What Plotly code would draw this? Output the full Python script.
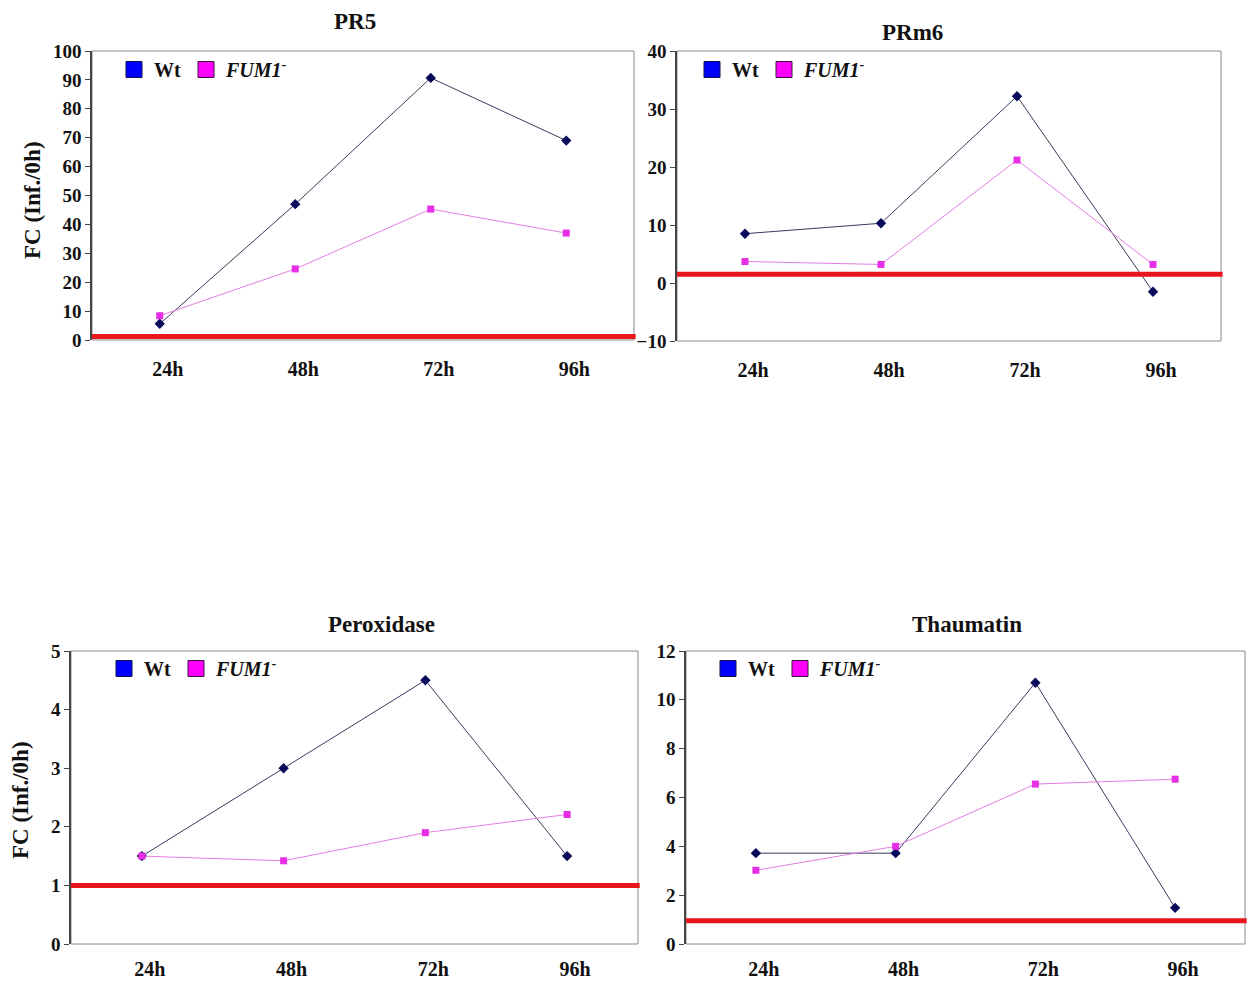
import plotly.graph_objects as go

# ---- data -------------------------------------------------------------
timepoints = ["24h", "48h", "72h", "96h"]
panel_titles = ["PR5", "PRm6", "Peroxidase", "Thaumatin"]

wt_pr5 = [5.6, 47.0, 90.7, 69.0]
fum_pr5 = [8.4, 24.6, 45.3, 37.0]

wt_prm6 = [8.5, 10.3, 32.2, -1.5]
fum_prm6 = [3.7, 3.2, 21.2, 3.2]

wt_perox = [1.5, 3.0, 4.5, 1.5]
fum_perox = [1.5, 1.42, 1.9, 2.21]

wt_thaum = [3.72, 3.72, 10.7, 1.48]
fum_thaum = [3.02, 4.0, 6.55, 6.75]

# fold-change reference level drawn in red on each panel
threshold = [1.2, 1.5, 1.0, 0.95]

y_ranges = [[0, 100], [-10, 40], [0, 5], [0, 12]]
y_dticks = [10, 10, 1, 2]

wt_series = [wt_pr5, wt_prm6, wt_perox, wt_thaum]
fum_series = [fum_pr5, fum_prm6, fum_perox, fum_thaum]

# ---- layout geometry (pixels in a 1250 x 985 canvas) -------------------
W, H = 1250, 985
boxes = [  # left, right, top, bottom
    (92, 634, 51, 340),
    (677, 1221, 51, 341),
    (71, 638, 651, 944),
    (686, 1245, 651, 944),
]
title_pos = [(355, 22), (912, 33), (381, 624), (967, 624)]
legend_pos = [(114, 50), (692, 50), (104, 649), (708, 649)]
xlabel_standoff = [15, 15, 11, 11]
ytitle_pos = [(33, 200), (20, 800)]

SERIF = "Liberation Serif, Times New Roman, serif"
WT_LINE = "#3a3a5e"
WT_MARK = "#0a0a5a"
FUM_LINE = "#e27ee2"
FUM_MARK = "#e62ee6"

fig = go.Figure()

for i in range(4):
    n = "" if i == 0 else str(i + 1)
    xa, ya = "x" + n, "y" + n
    leg = "legend" + n

    fig.add_trace(go.Scatter(
        x=timepoints, y=wt_series[i], mode="lines+markers",
        line=dict(color=WT_LINE, width=1),
        marker=dict(symbol="diamond", size=8, color=WT_MARK),
        xaxis=xa, yaxis=ya, showlegend=False, name="Wt"))
    fig.add_trace(go.Scatter(
        x=timepoints, y=fum_series[i], mode="lines+markers",
        line=dict(color=FUM_LINE, width=1),
        marker=dict(symbol="square", size=7, color=FUM_MARK),
        xaxis=xa, yaxis=ya, showlegend=False, name="FUM1-"))

    # legend-only entries with square colour patches
    fig.add_trace(go.Scatter(
        x=[None], y=[None], mode="markers", name="Wt",
        marker=dict(symbol="square", size=18, color="#0000ff",
                    line=dict(color="#10104a", width=1)),
        xaxis=xa, yaxis=ya, legend=leg))
    fig.add_trace(go.Scatter(
        x=[None], y=[None], mode="markers", name="<i>FUM1</i><sup>-</sup>",
        marker=dict(symbol="square", size=18, color="#ff00ff",
                    line=dict(color="#3a103a", width=1)),
        xaxis=xa, yaxis=ya, legend=leg))

    l, r, t, b = boxes[i]
    fig.update_layout(**{
        "xaxis" + n: dict(
            domain=[l / W, r / W], anchor=ya, automargin=False,
            type="category", range=[-0.5, 3.5],
            showline=False, showgrid=False, zeroline=False,
            ticks="", ticklabelstandoff=xlabel_standoff[i], ticklabelshift=8,
            tickfont=dict(family=SERIF, size=20, color="#111", weight="bold"),
        ),
        "yaxis" + n: dict(
            domain=[1 - b / H, 1 - t / H], anchor=xa, automargin=False,
            range=y_ranges[i], dtick=y_dticks[i],
            showline=True, linecolor="#454545", linewidth=1.5,
            ticks="outside", ticklen=5, tickcolor="#454545",
            showgrid=False, zeroline=False,
            tickfont=dict(family=SERIF, size=19, color="#111", weight="bold"),
        ),
        leg: dict(
            x=legend_pos[i][0] / W, y=1 - legend_pos[i][1] / H,
            xanchor="left", yanchor="top", orientation="h",
            bgcolor="rgba(0,0,0,0)", itemsizing="trace",
            font=dict(family=SERIF, size=20, color="#111", weight="bold"),
            tracegroupgap=0, itemwidth=30,
        ),
    })

    # plot frame
    fig.add_shape(type="rect", xref=xa + " domain", yref=ya + " domain",
                  x0=0, x1=1, y0=0, y1=1,
                  line=dict(color="#8a8a8a", width=1), layer="below")
    # red reference line
    fig.add_shape(type="line", xref=xa + " domain", yref=ya,
                  x0=0, x1=1.003, y0=threshold[i], y1=threshold[i],
                  line=dict(color="#e8151b", width=5))

    # panel title
    fig.add_annotation(text=panel_titles[i], xref="paper", yref="paper",
                       x=title_pos[i][0] / W, y=1 - title_pos[i][1] / H,
                       xanchor="center", yanchor="middle", showarrow=False,
                       font=dict(family=SERIF, size=23, color="#111", weight="bold"))

# shared y-axis titles on the left column
for (px, py) in ytitle_pos:
    fig.add_annotation(text="FC (Inf./0h)", xref="paper", yref="paper",
                       x=px / W, y=1 - py / H, textangle=-90,
                       xanchor="center", yanchor="middle", showarrow=False,
                       font=dict(family=SERIF, size=23, color="#111", weight="bold"))

fig.update_layout(
    width=W, height=H,
    margin=dict(l=0, r=0, t=0, b=0, autoexpand=False),
    paper_bgcolor="white", plot_bgcolor="white",
)

fig.write_html("out.html")
